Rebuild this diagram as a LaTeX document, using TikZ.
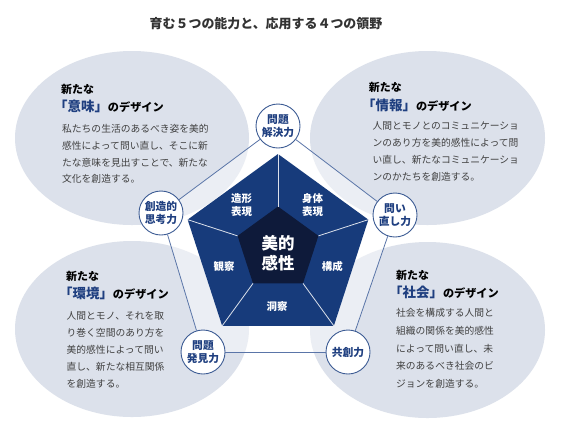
\documentclass[tikz,border=0pt]{standalone}
\usepackage{fontspec}
\setmainfont{Noto Sans CJK JP}
\usetikzlibrary{calc}
\definecolor{ellfill}{HTML}{DCE1EB}
\definecolor{pentblue}{HTML}{173B7B}
\definecolor{pentdark}{HTML}{0E1A3A}
\definecolor{ringblue}{HTML}{3D5C94}
\definecolor{labblue}{HTML}{1F3F80}
\definecolor{connblue}{HTML}{5A75A8}
\definecolor{bodygray}{HTML}{404040}
\definecolor{titlegray}{HTML}{333333}
\tikzset{
  ability/.style={circle,draw=ringblue,line width=0.9bp,fill=white,minimum size=44bp,inner sep=0pt,
    align=center,text=labblue,font=\fontsize{10.8}{13.5}\selectfont\bfseries},
  conn/.style={draw=connblue,line width=0.8bp},
  seglabel/.style={text=white,align=center,inner sep=0pt,font=\fontsize{10.5}{13.4}\selectfont\bfseries},
  body/.style={anchor=west,inner sep=0pt,text=bodygray,font=\fontsize{9.8}{12}\selectfont},
  newlab/.style={anchor=west,inner sep=0pt,text=black,font=\fontsize{11}{13}\selectfont\bfseries},
  headlab/.style={anchor=west,inner sep=0pt,text=black,font=\fontsize{11.2}{13}\selectfont\bfseries},
}
\newcommand{\fieldword}[1]{{\color{labblue}\fontsize{13.5}{15}\selectfont 「#1」}}
\begin{document}
\begin{tikzpicture}[x=1bp,y=-1bp]
\useasboundingbox (0,0) rectangle (567,421);
\fill[white] (0,0) rectangle (567,421);
% title
\node[inner sep=0pt,text=titlegray,font=\fontsize{13}{15}\selectfont\bfseries] (title) at (266,24) {育む５つの能力と、応用する４つの領野};
% ellipses
\fill[ellfill] (132,138) ellipse [x radius=117, y radius=87];
\fill[ellfill] (427.5,138) ellipse [x radius=117.5, y radius=87];
\fill[ellfill] (132,329) ellipse [x radius=117, y radius=88];
\fill[ellfill] (427.5,330) ellipse [x radius=117.5, y radius=88];
% ability positions
\coordinate (pA) at (278,126);
\coordinate (pB) at (395,215);
\coordinate (pC) at (348,352);
\coordinate (pD) at (203,352);
\coordinate (pE) at (161,213);
\fill[white,opacity=0.45] (pA)--(pB)--(pC)--(pD)--(pE)--cycle;
% pentagon
\coordinate (O) at (278,249);
\fill[pentblue] ($(O)+(270:95)$) -- ($(O)+(342:95)$) -- ($(O)+(54:95)$) -- ($(O)+(126:95)$) -- ($(O)+(198:95)$) -- cycle;
\fill[pentdark] ($(O)+(270:42.5)$) -- ($(O)+(342:42.5)$) -- ($(O)+(54:42.5)$) -- ($(O)+(126:42.5)$) -- ($(O)+(198:42.5)$) -- cycle;
\foreach \a in {270,342,54,126,198}
  \draw[white,opacity=0.85,line width=0.8bp] ($(O)+(\a:42.5)$) -- ($(O)+(\a:95)$);
\node[seglabel] (s1) at (241.7,205) {造形\\表現};
\node[seglabel] (s2) at (312.5,205) {身体\\表現};
\node[seglabel] (s3) at (332.3,267) {構成};
\node[seglabel] (s4) at (277,306.7) {洞察};
\node[seglabel] (s5) at (224,266) {観察};
\node[text=white,align=center,inner sep=0pt,font=\fontsize{16.5}{20}\selectfont\bfseries] (core) at (278,253.5) {美的\\感性};
% ability circles
\node[ability] (nA) at (pA) {問題\\解決力};
\node[ability] (nB) at (pB) {問い\\直し力};
\node[ability] (nC) at (pC) {共創力};
\node[ability] (nD) at (pD) {問題\\発見力};
\node[ability] (nE) at (pE) {創造的\\思考力};
\draw[conn] (nA) -- (nB);
\draw[conn] (nB) -- (nC);
\draw[conn] (nC) -- (nD);
\draw[conn] (nD) -- (nE);
\draw[conn] (nE) -- (nA);
% top-left block
\node[newlab] (tln) at (61,89.3) {新たな};
\node[headlab] (tlh) at (54,106.7) {\fieldword{意味}のデザイン};
\foreach \t [count=\i] in {私たちの生活のあるべき姿を美的,感性によって問い直し、そこに新,たな意味を見出すことで、新たな,文化を創造する。}
  \node[body] (tlb\i) at (62,{129+16.7*(\i-1)}) {\t};
% top-right block
\node[newlab] (trn) at (368.7,87.7) {新たな};
\node[headlab] (trh) at (362,105) {\fieldword{情報}のデザイン};
\foreach \t [count=\i] in {人間とモノとのコミュニケーショ,ンのあり方を美的感性によって問,い直し、新たなコミュニケーショ,ンのかたちを創造する。}
  \node[body] (trb\i) at (372.5,{126+16.9*(\i-1)}) {\t};
% bottom-left block
\node[newlab] (bln) at (66,276.7) {新たな};
\node[headlab] (blh) at (59,293.3) {\fieldword{環境}のデザイン};
\foreach \t [count=\i] in {人間とモノ、それを取,り巻く空間のあり方を,美的感性によって問い,直し、新たな相互関係,を創造する。}
  \node[body] (blb\i) at (66.5,{315.7+17.1*(\i-1)}) {\t};
% bottom-right block
\node[newlab] (brn) at (396,275) {新たな};
\node[headlab] (brh) at (389,292.3) {\fieldword{社会}のデザイン};
\foreach \t [count=\i] in {社会を構成する人間と,組織の関係を美的感性,によって問い直し、未,来のあるべき社会のビ,ジョンを創造する。}
  \node[body] (brb\i) at (396,{313.3+17.5*(\i-1)}) {\t};
\end{tikzpicture}
\end{document}
